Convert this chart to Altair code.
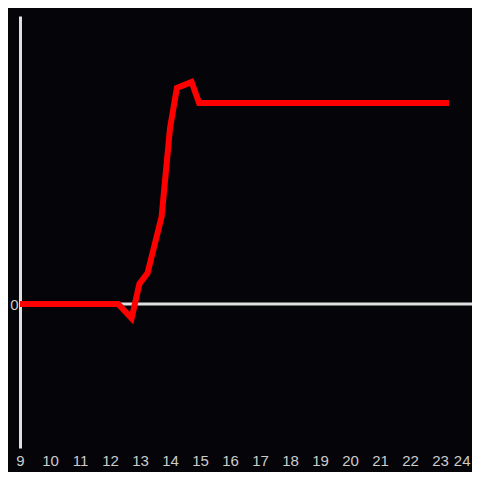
import altair as alt
import pandas as pd

hours = [9.0, 12.27, 12.72, 12.98, 13.25, 13.72, 14.0, 14.23, 14.72, 14.97, 23.3]
values = [0.0, 0.0, -0.05, 0.07, 0.107, 0.303, 0.61, 0.75, 0.771, 0.698, 0.698]
x_ticks = list(range(9, 25))

df = pd.DataFrame({"hour": hours, "value": values})

W, H = 450, 432

zero = alt.Chart(pd.DataFrame({"z": [0]})).mark_rule(color="#e0e0e0", strokeWidth=3).encode(
    y=alt.Y("z:Q"),
    x=alt.value(0),
    x2=alt.value(W + 2),
)

line = alt.Chart(df).mark_line(color="#ff0000", strokeWidth=6, strokeJoin="miter").encode(
    x=alt.X("hour:Q", scale=alt.Scale(domain=[9, 24], nice=False, zero=False),
            axis=alt.Axis(values=x_ticks, format="d", domain=False, ticks=False, grid=False,
                          title=None, labelPadding=5, labelFontSize=15, labelColor="#cccccc",
                          labelFont="Liberation Sans", labelFlush=False,
                          labelAlign={"expr": "datum.value == 24 ? 'right' : 'center'"})),
    y=alt.Y("value:Q", scale=alt.Scale(domain=[-0.5, 1], nice=False, zero=False),
            axis=alt.Axis(values=[0], format="d", domain=True, domainColor="#e0e0e0",
                          domainWidth=3, ticks=False, grid=False, title=None, labelPadding=2,
                          labelFontSize=15, labelColor="#cccccc", labelFont="Liberation Sans")),
)

chart = alt.layer(zero, line).properties(
    width=W, height=H,
    background="#050408",
    padding={"left": 12, "top": 8, "right": 2, "bottom": 24},
    autosize=alt.AutoSizeParams(type="none"),
).configure_view(stroke=None, fill="#050408")

chart.save("out.html", embed_options={"renderer": "svg", "actions": False})
